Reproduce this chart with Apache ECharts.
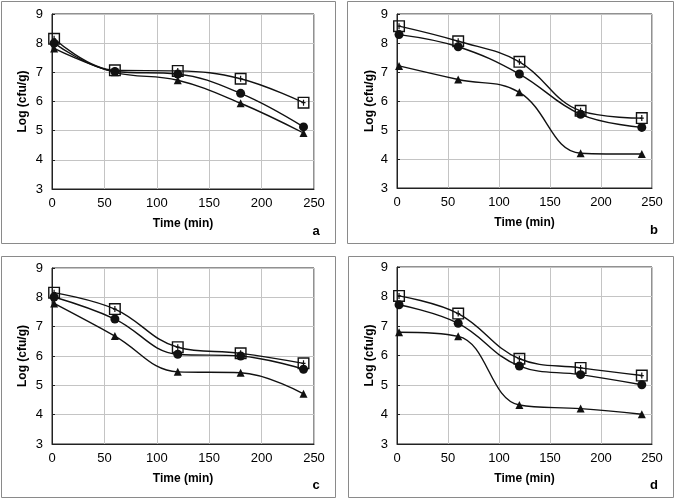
<!DOCTYPE html>
<html><head><meta charset="utf-8">
<style>html,body{margin:0;padding:0;background:#fff}#c{width:676px;height:501px}</style>
<script src="https://cdn.jsdelivr.net/npm/echarts@6/dist/echarts.min.js"></script>
</head><body><div id="c"></div>
<script>
var times = [2, 60, 120, 180, 240];
var panelLabels = ['a', 'b', 'c', 'd'];
var xTicks = [0, 50, 100, 150, 200, 250];
var yTicks = [3, 4, 5, 6, 7, 8, 9];
// per panel: square series, circle series, triangle series
var aSquare = [8.15, 7.07, 7.05, 6.78, 5.96];
var aCircle = [8.00, 7.03, 6.94, 6.28, 5.13];
var aTriangle = [7.82, 7.00, 6.73, 5.94, 4.92];
var bSquare = [8.58, 8.06, 7.35, 5.66, 5.41];
var bCircle = [8.29, 7.87, 6.93, 5.54, 5.09];
var bTriangle = [7.21, 6.74, 6.30, 4.20, 4.17];
var cSquare = [8.16, 7.60, 6.30, 6.09, 5.75];
var cCircle = [8.01, 7.26, 6.06, 6.00, 5.55];
var cTriangle = [7.79, 6.68, 5.46, 5.43, 4.71];
var dSquare = [8.02, 7.42, 5.89, 5.58, 5.32];
var dCircle = [7.72, 7.09, 5.64, 5.35, 5.01];
var dTriangle = [6.79, 6.65, 4.32, 4.20, 4.01];

var panels = [[aSquare, aCircle, aTriangle],[bSquare, bCircle, bTriangle],[cSquare, cCircle, cTriangle],[dSquare, dCircle, dTriangle]];
var grids = [
  {left: 52, top: 14, width: 262, height: 175},
  {left: 397, top: 14, width: 255, height: 174},
  {left: 52, top: 268, width: 262, height: 176},
  {left: 397, top: 267, width: 255, height: 177}
];
var boxes = [
  {x: 1.5, y: 1.5, w: 334, h: 242},
  {x: 347.5, y: 1.5, w: 326, h: 242},
  {x: 1.5, y: 256.5, w: 334, h: 241},
  {x: 348.5, y: 256.5, w: 325, h: 241}
];
var letterPos = [[316, 231], [654, 230], [316, 485], [654, 485]];

var sqPath = 'path://M0 0L12 0L12 12L0 12Z M1.4 1.4L1.4 10.6L10.6 10.6L10.6 1.4Z M5.4 3L6.6 3L6.6 9L5.4 9Z M4 5.4L8 5.4L8 6.6L4 6.6Z';

var font = '"Liberation Sans", Arial, sans-serif';
var option = {
  animation: false,
  backgroundColor: '#fff',
  grid: grids.map(function(g){ return Object.assign({show: true, borderColor: '#222', borderWidth: 1, backgroundColor: 'transparent'}, g); }),
  xAxis: grids.map(function(g, i){ return {
    type: 'value', gridIndex: i, min: 0, max: 250, interval: 50,
    name: 'Time (min)', nameLocation: 'middle', nameGap: 29,
    nameTextStyle: {fontFamily: font, fontWeight: 'bold', fontSize: 12, color: '#000'},
    axisLine: {show: true, onZero: false, lineStyle: {color: '#222'}},
    axisTick: {show: false},
    axisLabel: {fontFamily: font, fontSize: 13, color: '#000', margin: 8},
    splitLine: {show: true, lineStyle: {color: '#c4c4c4', width: 1}}
  }; }),
  yAxis: grids.map(function(g, i){ return {
    type: 'value', gridIndex: i, min: 3, max: 9, interval: 1,
    name: 'Log (cfu/g)', nameLocation: 'middle', nameGap: i % 2 ? 21 : 23,
    nameTextStyle: {fontFamily: font, fontWeight: 'bold', fontSize: 12, color: '#000'},
    axisLine: {show: true, lineStyle: {color: '#222'}},
    axisTick: {show: true, inside: true, length: 3, lineStyle: {color: '#222'}},
    axisLabel: {fontFamily: font, fontSize: 13, color: '#000', margin: 9},
    splitLine: {show: true, lineStyle: {color: '#c4c4c4', width: 1}}
  }; }),
  series: [],
  graphic: []
};

panels.forEach(function(p, i){
  var syms = [sqPath, 'circle', 'triangle'];
  var sizes = [12, 9, 8];
  [2, 1, 0].forEach(function(k){
    option.series.push({
      type: 'line', xAxisIndex: i, yAxisIndex: i, smooth: 0.4,
      data: times.map(function(t, j){ return [t, p[k][j]]; }),
      symbol: syms[k], symbolSize: sizes[k],
      lineStyle: {color: '#111', width: 1.4},
      itemStyle: {color: '#111', borderWidth: 0},
      z: 3 + (2 - k)
    });
  });
  option.graphic.push({type: 'rect', shape: {x: boxes[i].x, y: boxes[i].y, width: boxes[i].w, height: boxes[i].h},
    style: {fill: 'none', stroke: '#8a8a8a', lineWidth: 1}, z: 0, silent: true});
  option.graphic.push({type: 'text', x: letterPos[i][0], y: letterPos[i][1],
    style: {text: panelLabels[i], font: 'bold 13px ' + font, fill: '#000', align: 'center', verticalAlign: 'middle'}});
});

var chart = echarts.init(document.getElementById('c'), null, {renderer: 'canvas'});
chart.setOption(option);
</script></body></html>
